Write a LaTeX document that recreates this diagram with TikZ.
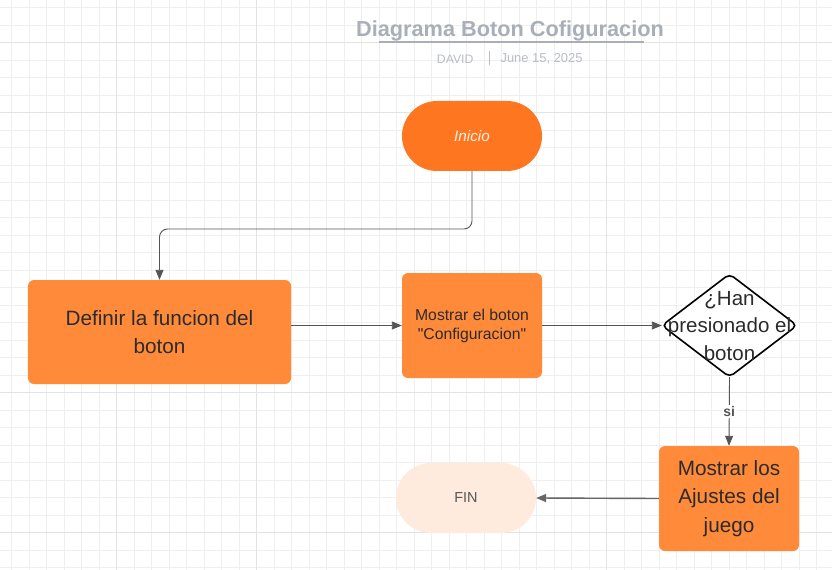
\documentclass[tikz,border=0pt]{standalone}
\usepackage{fontspec}
\setmainfont{Liberation Sans}
\newfontfamily\nq{Liberation Sans}[Ligatures=TeXOff]
\usetikzlibrary{arrows.meta,positioning}
\definecolor{gridc}{HTML}{EFEFEF}
\definecolor{gridd}{HTML}{E3E3E3}
\definecolor{orA}{HTML}{FF7620}
\definecolor{orB}{HTML}{FF8A3A}
\definecolor{peach}{HTML}{FFEBDD}
\definecolor{txt}{HTML}{2B2B2B}
\definecolor{ttl}{HTML}{A9AFB8}
\definecolor{sub}{HTML}{B9BEC5}
\definecolor{lnc}{HTML}{555555}
\tikzset{
  box/.style={draw=none, fill=orB, rounded corners=6bp, align=center, text=txt, inner sep=2bp},
  stad/.style={draw=none, rounded corners=35bp, minimum width=140bp, minimum height=70bp, align=center},
  conn/.style={draw=lnc, line width=0.9bp, -{Triangle[length=10bp,width=8bp]}},
}
\begin{document}
\begin{tikzpicture}[x=1bp,y=-1bp]
\useasboundingbox (0,0) rectangle (832,570);
\fill[white] (0,0) rectangle (832,570);
% grid
\foreach \i in {0,...,47} {\draw[gridc, line width=0.8bp] ({11.7+17.5*\i},0) -- ({11.7+17.5*\i},570);}
\foreach \j in {0,...,32} {\draw[gridc, line width=0.8bp] (0,{7.5+17.5*\j}) -- (832,{7.5+17.5*\j});}
\foreach \xx in {116.7,256.7,606.7} {\draw[gridd, line width=1bp] (\xx,0) -- (\xx,570);}
\foreach \yy in {42.5,112.5,392.5,532.5} {\draw[gridd, line width=1bp] (0,\yy) -- (832,\yy);}
% title
\node[text=ttl, font=\bfseries\fontsize{21.8}{24}\selectfont] (title) at (510,31) {Diagrama Boton Cofiguracion};
\coordinate (ul1) at (379,42.5);
\coordinate (ul2) at (644,42.5);
\draw[ttl, line width=2bp] (ul1) -- (ul2);
\node[text=sub, font=\fontsize{12.3}{14}\selectfont, anchor=east] (auth) at (477,59) {DAVID};
\node[text=sub, font=\fontsize{13}{15}\selectfont, anchor=west] (date) at (497,59) {June 15, 2025};
\coordinate (bar1) at (489,51);
\coordinate (bar2) at (489,65);
\draw[sub, line width=0.8bp] (bar1) -- (bar2);
% nodes
\node[stad, fill=orA, text=white!90!orange, font=\itshape\fontsize{15.3}{18}\selectfont] (ini) at (472,136) {Inicio};
\node[box, minimum width=263bp, minimum height=104bp, font=\fontsize{20.8}{28}\selectfont] (def) at (159.5,332) {Definir la funcion del\\boton};
\node[box, minimum width=140bp, minimum height=105bp, font=\nq\fontsize{15.8}{19}\selectfont] (mos) at (472,325.5) {Mostrar el boton\\"Configuracion"};
\draw[black, line width=1.6bp, fill=white, rounded corners=5bp] (729.5,274) -- (797,325.5) -- (729.5,377) -- (662,325.5) -- cycle;
\node[minimum width=135bp, minimum height=103bp, inner sep=0] (dec) at (729.5,325.5) {};
\node[align=center, text=txt, font=\fontsize{20.6}{27.5}\selectfont] (dect) at (729.5,326) {¿Han\\presionado el\\boton};
\node[box, minimum width=140bp, minimum height=105bp, font=\fontsize{20.8}{28.5}\selectfont] (aju) at (729,498.5) {Mostrar los\\Ajustes del\\juego};
\node[stad, fill=peach, text=lnc, font=\fontsize{14.5}{17}\selectfont] (fin) at (466,498) {FIN};
% connectors
\draw[conn, rounded corners=8bp] (ini.south) -- (ini.south |- 0,229) -- (def.north |- 0,229) -- (def.north);
\draw[conn] (def.east |- mos.west) -- (mos.west);
\draw[conn] (mos.east) -- (dec.west);
\draw[conn] (dec.south) -- node[fill=white, inner sep=1.5bp, text=lnc, font=\bfseries\fontsize{14}{16}\selectfont] (si) {si} (aju.north);
\draw[conn, line width=1.4bp, draw=lnc!90!white] (aju.west) -- (fin.east);
\end{tikzpicture}
\end{document}
